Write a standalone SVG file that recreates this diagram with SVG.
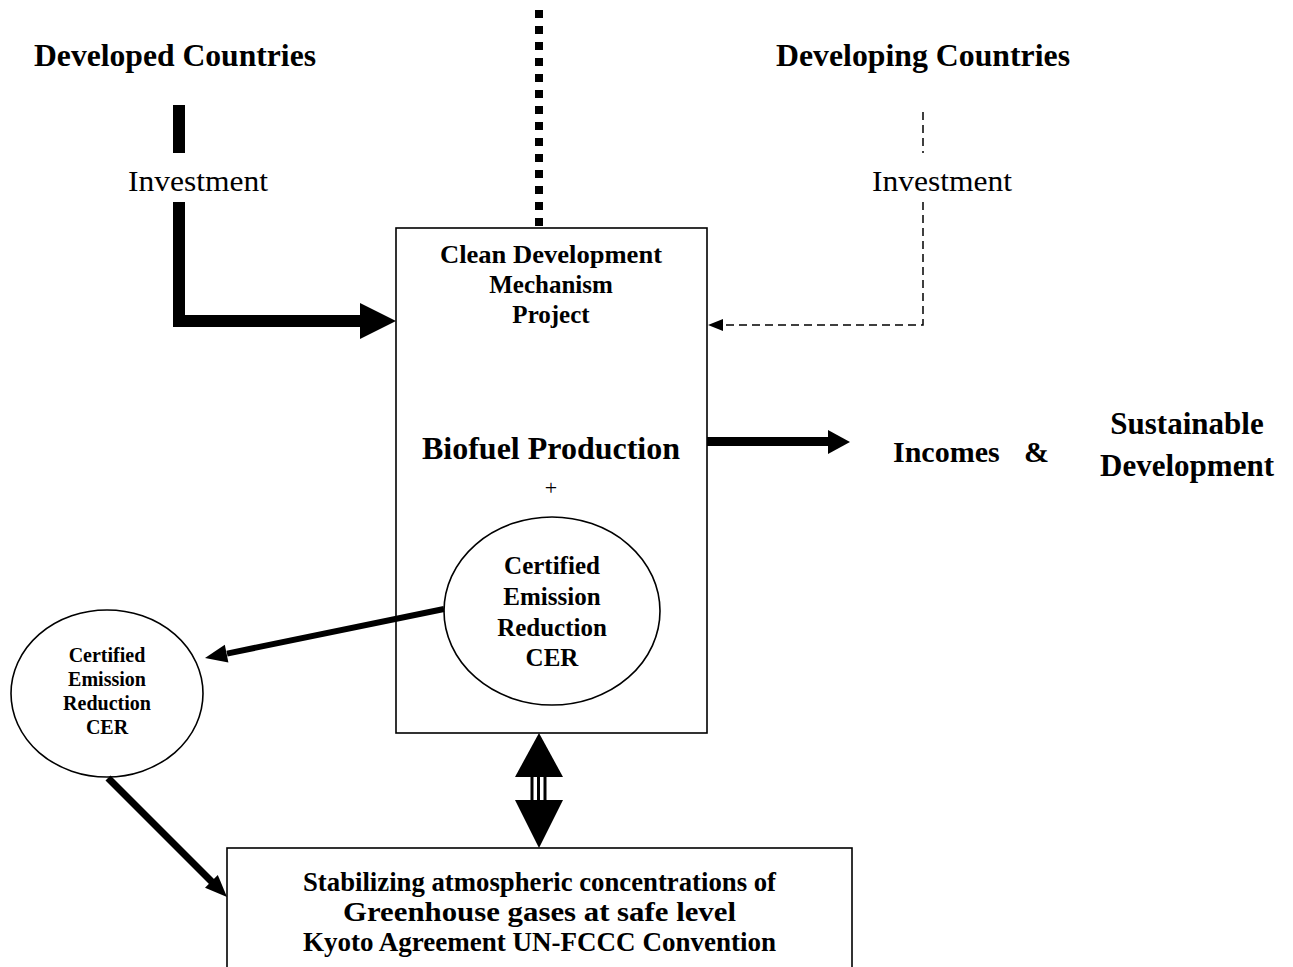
<svg xmlns="http://www.w3.org/2000/svg" width="1293" height="967" viewBox="0 0 1293 967">
<style>
text{font-family:"Liberation Serif","Times New Roman",serif;fill:#000;text-anchor:middle}
.b{font-weight:bold}
.box{fill:none;stroke:#000;stroke-width:1.6}
.thick{fill:none;stroke:#000;stroke-width:12;stroke-linejoin:miter}
.head{fill:#000;stroke:none}
</style>
<rect width="1293" height="967" fill="#fff"/>
<g id="label-developed"><text class="b" x="175" y="66" font-size="31" textLength="282" lengthAdjust="spacingAndGlyphs">Developed Countries</text></g>
<g id="label-developing"><text class="b" x="923" y="66" font-size="31" textLength="294" lengthAdjust="spacingAndGlyphs">Developing Countries</text></g>
<g id="label-investment-left"><text x="198" y="191" font-size="29" textLength="140" lengthAdjust="spacingAndGlyphs">Investment</text></g>
<g id="label-investment-right"><text x="942" y="191" font-size="29" textLength="140" lengthAdjust="spacingAndGlyphs">Investment</text></g>
<g id="cdm-box">
<rect class="box" x="396" y="228" width="311" height="505"/>
<text class="b" font-size="25"><tspan x="551" y="263" textLength="222" lengthAdjust="spacingAndGlyphs">Clean Development</tspan><tspan x="551" y="293">Mechanism</tspan><tspan x="551" y="323">Project</tspan></text>
<text class="b" x="551" y="459" font-size="32" textLength="258" lengthAdjust="spacingAndGlyphs">Biofuel Production</text>
<text x="551" y="495" font-size="22">+</text>
</g>
<g id="cer-inner">
<ellipse cx="552" cy="611" rx="108" ry="94" fill="#fff" stroke="#000" stroke-width="1.6"/>
<text class="b" font-size="25"><tspan x="552" y="574">Certified</tspan><tspan x="552" y="605">Emission</tspan><tspan x="552" y="636">Reduction</tspan><tspan x="552" y="666">CER</tspan></text>
</g>
<g id="cer-outer">
<ellipse cx="107" cy="693.5" rx="96" ry="83.5" fill="#fff" stroke="#000" stroke-width="1.6"/>
<text class="b" font-size="20"><tspan x="107" y="662">Certified</tspan><tspan x="107" y="686">Emission</tspan><tspan x="107" y="710">Reduction</tspan><tspan x="107" y="734">CER</tspan></text>
</g>
<g id="incomes"><text class="b" font-size="30" style="text-anchor:start"><tspan x="893" y="462">Incomes</tspan><tspan x="1024" y="462">&amp;</tspan></text></g>
<g id="sustainable"><text class="b" font-size="31"><tspan x="1187" y="434">Sustainable</tspan><tspan x="1187" y="476">Development</tspan></text></g>
<g id="kyoto-box">
<rect class="box" x="227" y="848" width="625" height="130"/>
<text class="b" font-size="27"><tspan x="539.5" y="891" textLength="473" lengthAdjust="spacingAndGlyphs">Stabilizing atmospheric concentrations of</tspan><tspan x="539.5" y="921" textLength="393" lengthAdjust="spacingAndGlyphs">Greenhouse gases at safe level</tspan><tspan x="539.5" y="951" textLength="473" lengthAdjust="spacingAndGlyphs">Kyoto Agreement UN-FCCC Convention</tspan></text>
</g>
<g id="connectors">
<line x1="539" y1="10" x2="539" y2="226" stroke="#000" stroke-width="8" stroke-dasharray="8 8"/>
<line x1="179" y1="105" x2="179" y2="153" stroke="#000" stroke-width="12"/>
<polyline class="thick" points="179,202 179,321 362,321"/>
<polygon class="head" points="360,303 396,321 360,339"/>
<line x1="923" y1="112" x2="923" y2="153" stroke="#000" stroke-width="1.5" stroke-dasharray="8 5"/>
<polyline points="923,202 923,325 722,325" fill="none" stroke="#000" stroke-width="1.5" stroke-dasharray="8 5"/>
<polygon class="head" points="723,319 708,325 723,331"/>
<line x1="707" y1="441.5" x2="830" y2="441.5" stroke="#000" stroke-width="9"/>
<polygon class="head" points="828,430 850,442 828,454"/>
<line x1="444" y1="609" x2="227" y2="653.6" stroke="#000" stroke-width="6"/>
<polygon class="head" points="205,658 228.4,662.4 224.8,644.8"/>
<line x1="108" y1="778" x2="213" y2="883" stroke="#000" stroke-width="7"/>
<polygon class="head" points="227,897 205,887.8 217.8,875"/>
<polygon class="head" points="539,733 515,777 563,777"/>
<polygon class="head" points="515,800 563,800 539,848"/>
<rect x="530.5" y="776" width="3" height="25" fill="#000"/>
<rect x="537" y="776" width="3" height="25" fill="#000"/>
<rect x="543.5" y="776" width="3" height="25" fill="#000"/>
</g>
</svg>
